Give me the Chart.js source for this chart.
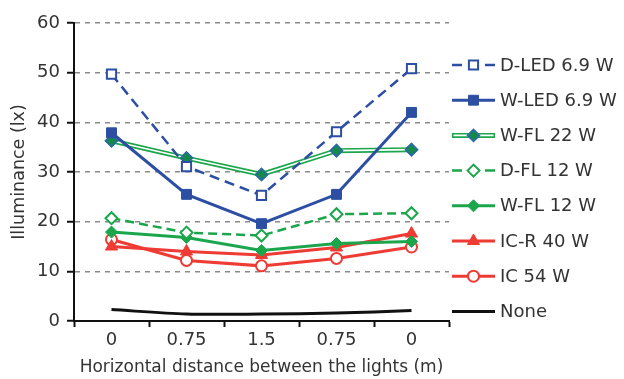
<!DOCTYPE html>
<html>
<head>
<meta charset="utf-8">
<script src="https://cdn.jsdelivr.net/npm/chart.js@4"></script>
<style>
  html, body { margin: 0; padding: 0; background: #fff; }
  #wrap { width: 624px; height: 379px; }
</style>
</head>
<body>
<div id="wrap"><canvas id="myChart" width="624" height="379"></canvas></div>
<script>
const distances = ['0', '0.75', '1.5', '0.75', '0'];

const dLed69 = [49.7, 31.1, 25.3, 38.1, 50.8];
const wLed69 = [37.9, 25.5, 19.6, 25.5, 42.0];
const wFl22 = [36.3, 32.8, 29.5, 34.3, 34.5];
const dFl12 = [20.7, 17.8, 17.2, 21.5, 21.7];
const wFl12 = [17.9, 16.8, 14.2, 15.6, 16.0];
const icR40 = [15.0, 14.0, 13.3, 14.8, 17.6];
const ic54 = [16.4, 12.2, 11.1, 12.6, 14.9];
const noLight = [2.3, 1.4, 1.4, 1.6, 2.1];

const yTicks = [0, 10, 20, 30, 40, 50, 60];

const BLUE = '#2c4fa3';
const GREEN = '#1ca64c';
const RED = '#ee3b33';
const TEXT = '#333';

const ctx = document.getElementById('myChart').getContext('2d');
const FONT = 'DejaVu Sans, Verdana, sans-serif';

const datasets = [
    { label: 'D-LED 6.9 W', data: dLed69, borderColor: BLUE, borderWidth: 2.5, borderDash: [10, 6],
      pointStyle: 'rect', pointRadius: 6.5, pointBackgroundColor: '#fff', pointBorderColor: BLUE, pointBorderWidth: 2 },
    { label: 'W-LED 6.9 W', data: wLed69, borderColor: BLUE, borderWidth: 3,
      pointStyle: 'rect', pointRadius: 7, pointBackgroundColor: BLUE, pointBorderColor: BLUE, pointBorderWidth: 1 },
    { label: 'W-FL 22 W', data: wFl22, borderColor: GREEN, borderWidth: 5, doubleLine: true,
      pointStyle: 'rectRot', pointRadius: 6, pointBackgroundColor: '#158a48', pointBorderColor: '#2a6aa8', pointBorderWidth: 1.5 },
    { label: 'D-FL 12 W', data: dFl12, borderColor: GREEN, borderWidth: 2.5, borderDash: [9, 5],
      pointStyle: 'rectRot', pointRadius: 6, pointBackgroundColor: '#fff', pointBorderColor: GREEN, pointBorderWidth: 2 },
    { label: 'W-FL 12 W', data: wFl12, borderColor: GREEN, borderWidth: 3,
      pointStyle: 'rectRot', pointRadius: 6, pointBackgroundColor: GREEN, pointBorderColor: GREEN, pointBorderWidth: 1 },
    { label: 'IC-R 40 W', data: icR40, borderColor: RED, borderWidth: 3,
      pointStyle: 'triangle', pointRadius: 7, pointBackgroundColor: RED, pointBorderColor: RED, pointBorderWidth: 1 },
    { label: 'IC 54 W', data: ic54, borderColor: RED, borderWidth: 3,
      pointStyle: 'circle', pointRadius: 5.5, pointBackgroundColor: '#fff', pointBorderColor: RED, pointBorderWidth: 2 },
    { label: 'None', data: noLight, borderColor: '#111', borderWidth: 3, tension: 0.3,
      pointRadius: 0 }
];

// white core for the double line, then markers on top again
const doubleLinePlugin = {
    id: 'doubleLine',
    afterDatasetDraw(chart, args) {
        const ds = chart.data.datasets[args.index];
        if (!ds.doubleLine) return;
        const pts = args.meta.data;
        const c = chart.ctx;
        c.save();
        c.strokeStyle = '#fff';
        c.lineWidth = 1.6;
        c.beginPath();
        pts.forEach((p, i) => i ? c.lineTo(p.x, p.y) : c.moveTo(p.x, p.y));
        c.stroke();
        c.restore();
        pts.forEach(p => p.draw(c, chart.chartArea));
    }
};

// legend on the right: line + marker + label
const sideLegend = {
    id: 'sideLegend',
    afterDraw(chart) {
        const c = chart.ctx;
        const x0 = 452, x1 = 495, top = 65, step = 35.2;
        chart.data.datasets.forEach((ds, i) => {
            const y = top + i * step;
            c.save();
            c.strokeStyle = ds.borderColor;
            c.lineWidth = ds.doubleLine ? 5 : (ds.borderWidth || 3);
            c.beginPath();
            if (ds.borderDash) {
                c.moveTo(x0, y); c.lineTo(x0 + 10, y);
                c.moveTo(x1 - 10, y); c.lineTo(x1, y);
            } else {
                c.moveTo(x0, y); c.lineTo(x1, y);
            }
            c.stroke();
            if (ds.doubleLine) {
                c.strokeStyle = '#fff';
                c.lineWidth = 1.6;
                c.beginPath(); c.moveTo(x0 + 1.5, y); c.lineTo(x1 - 1.5, y); c.stroke();
            }
            if (ds.pointRadius) {
                c.fillStyle = ds.pointBackgroundColor;
                c.strokeStyle = ds.pointBorderColor;
                c.lineWidth = ds.pointBorderWidth;
                Chart.helpers.drawPoint(c, { pointStyle: ds.pointStyle, radius: ds.pointRadius, borderWidth: ds.pointBorderWidth, rotation: 0 }, (x0 + x1) / 2, y);
            }
            c.fillStyle = TEXT;
            c.font = '18px ' + FONT;
            c.textBaseline = 'middle';
            c.textAlign = 'left';
            c.fillText(ds.label, 500, y + 1);
            c.restore();
        });
    }
};

const myChart = new Chart(ctx, {
    type: 'line',
    data: { labels: distances, datasets: datasets },
    plugins: [doubleLinePlugin, sideLegend],
    options: {
        responsive: false,
        animation: false,
        devicePixelRatio: 1,
        layout: { padding: { left: 0, right: 175, top: 23, bottom: 0 } },
        elements: { line: { tension: 0, fill: false } },
        plugins: { legend: { display: false }, tooltip: { enabled: false } },
        scales: {
            x: {
                offset: true,
                grid: { display: true, offset: true, drawOnChartArea: false, drawTicks: true,
                        tickLength: 6, tickColor: '#111', tickWidth: 2 },
                border: { display: true, color: '#111', width: 2 },
                ticks: { color: TEXT, font: { family: FONT, size: 18 }, padding: 3, maxRotation: 0 },
                title: { display: true, text: 'Horizontal distance between the lights (m)', color: TEXT,
                         font: { family: FONT, size: 17 }, padding: { top: 0, bottom: 1 } },
                afterFit: s => { s.height = 58; }
            },
            y: {
                min: 0, max: 60,
                afterBuildTicks: s => { s.ticks = yTicks.map(v => ({ value: v })); },
                grid: { color: ctx => ctx.tick && ctx.tick.value === 0 ? 'rgba(0,0,0,0)' : '#8a8a8a',
                        lineWidth: 1.5, tickLength: 7, tickColor: '#111', tickWidth: 2 },
                border: { display: true, color: '#111', width: 2, dash: [5, 5] },
                ticks: { color: TEXT, font: { family: FONT, size: 18 }, padding: 7 },
                title: { display: true, text: 'Illuminance (lx)', color: TEXT,
                         font: { family: FONT, size: 17.5 }, padding: { top: 9, bottom: 0 } },
                afterFit: s => { s.width = 74; }
            }
        }
    }
});
</script>
</body>
</html>
